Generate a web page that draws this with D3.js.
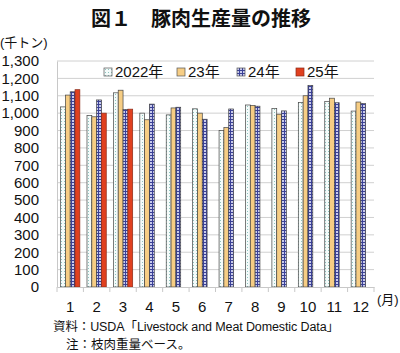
<!DOCTYPE html>
<html>
<head>
<meta charset="utf-8">
<script src="https://cdn.jsdelivr.net/npm/d3@7"></script>
<style>
  body { margin: 0; background: #fff; }
  text { font-family: "Liberation Sans", "Noto Sans CJK JP", sans-serif; fill: #111; }
</style>
</head>
<body>
<div id="chart"></div>
<script>
// months and series (thousand tons)
var months = ["1", "2", "3", "4", "5", "6", "7", "8", "9", "10", "11", "12"];
var seriesNames = ["2022年", "23年", "24年", "25年"];
var y2022 = [1036, 986, 1117, 1000, 990, 1025, 900, 1047, 1027, 1062, 1068, 1012];
var y2023 = [1104, 979, 1132, 962, 1030, 1000, 917, 1044, 994, 1100, 1086, 1064];
var y2024 = [1123, 1076, 1021, 1052, 1034, 965, 1024, 1040, 1013, 1160, 1060, 1056];
var y2025 = [1135, 1000, 1023];
var yTicks = [0, 100, 200, 300, 400, 500, 600, 700, 800, 900, 1000, 1100, 1200, 1300];

var allSeries = [y2022, y2023, y2024, y2025];
var fills = ["url(#dots)", "#f6cd84", "url(#grid)", "#e0401f"];

var width = 400, height = 353;
var margin = {top: 61, right: 26, bottom: 66, left: 57};

var svg = d3.select("#chart").append("svg")
    .attr("width", width)
    .attr("height", height);

// patterns
var defs = svg.append("defs");
var dots = defs.append("pattern")
    .attr("id", "dots")
    .attr("width", 3).attr("height", 3)
    .attr("patternUnits", "userSpaceOnUse");
dots.append("rect").attr("width", 3).attr("height", 3).attr("fill", "#f4fbfa");
dots.append("rect").attr("x", 1).attr("y", 1).attr("width", 1).attr("height", 1).attr("fill", "#8fc4c0");

var grid = defs.append("pattern")
    .attr("id", "grid")
    .attr("width", 3).attr("height", 3)
    .attr("patternUnits", "userSpaceOnUse");
grid.append("rect").attr("width", 3).attr("height", 3).attr("fill", "#c9cbec");
grid.append("rect").attr("x", 0).attr("y", 2).attr("width", 3).attr("height", 1).attr("fill", "#3b4196");
grid.append("rect").attr("x", 2).attr("y", 0).attr("width", 1).attr("height", 3).attr("fill", "#3b4196");

var innerW = width - margin.left - margin.right;
var innerH = height - margin.top - margin.bottom;

var x = d3.scaleBand()
    .domain(months)
    .range([margin.left, margin.left + innerW])
    .paddingInner(0.27)
    .paddingOuter(0.135);

var xs = d3.scaleBand()
    .domain(d3.range(4))
    .range([0, x.bandwidth()]);

var y = d3.scaleLinear()
    .domain([0, 1300])
    .range([margin.top + innerH, margin.top]);

// title
svg.append("text")
    .attr("x", 201)
    .attr("y", 26)
    .attr("text-anchor", "middle")
    .style("font-size", "20px")
    .style("font-weight", "bold")
    .text("図１　豚肉生産量の推移");

svg.append("text")
    .attr("x", 0)
    .attr("y", 47)
    .style("font-size", "13px")
    .text("(千トン)");

// gridlines
svg.append("g")
    .selectAll("line")
    .data(yTicks.filter(function(d) { return d > 0; }))
    .join("line")
    .attr("x1", margin.left)
    .attr("x2", margin.left + innerW)
    .attr("y1", function(d) { return y(d); })
    .attr("y2", function(d) { return y(d); })
    .attr("stroke", "#d0d0d0")
    .attr("stroke-width", 1);

// y axis
var yAxis = svg.append("g")
    .attr("transform", "translate(" + margin.left + ",0)")
    .call(d3.axisLeft(y).tickValues(yTicks).tickSize(0).tickPadding(18).tickFormat(d3.format(",")));
yAxis.select(".domain").attr("stroke", "#c8c8c8");
yAxis.selectAll("text").style("font-size", "15px");

// bars
var groups = svg.append("g")
    .selectAll("g")
    .data(allSeries)
    .join("g")
    .attr("fill", function(d, i) { return fills[i]; });

groups.each(function(series, si) {
    d3.select(this).selectAll("rect")
        .data(series)
        .join("rect")
        .attr("x", function(d, mi) { return x(months[mi]) + xs(si); })
        .attr("y", function(d) { return y(d); })
        .attr("width", xs.bandwidth())
        .attr("height", function(d) { return y(0) - y(d); })
        .attr("stroke", si == 3 ? "#8a2a18" : "#444")
        .attr("stroke-width", 0.7);
});

// x axis
var xAxis = svg.append("g")
    .attr("transform", "translate(0," + y(0) + ")")
    .call(d3.axisBottom(x).tickSize(0).tickPadding(14));
xAxis.select(".domain").attr("stroke", "#c8c8c8");
xAxis.selectAll("text").style("font-size", "15px");

// tick marks between months
var step = innerW / months.length;
svg.append("g")
    .selectAll("line")
    .data(d3.range(months.length + 1))
    .join("line")
    .attr("x1", function(d) { return margin.left + d * step; })
    .attr("x2", function(d) { return margin.left + d * step; })
    .attr("y1", y(0))
    .attr("y2", y(0) + 5)
    .attr("stroke", "#c8c8c8");

svg.append("text")
    .attr("x", 377)
    .attr("y", 304)
    .style("font-size", "13px")
    .text("(月)");

// legend
var legendX = [104, 177, 237, 296];
var legend = svg.append("g")
    .selectAll("g")
    .data(seriesNames)
    .join("g")
    .attr("transform", function(d, i) { return "translate(" + legendX[i] + ",68)"; });
legend.append("rect")
    .attr("width", 8).attr("height", 8)
    .attr("fill", function(d, i) { return fills[i]; })
    .attr("stroke", function(d, i) { return i == 3 ? "#8a2a18" : "#555"; })
    .attr("stroke-width", 0.7);
legend.append("text")
    .attr("x", 11)
    .attr("y", 9)
    .style("font-size", "15px")
    .text(function(d) { return d; });

// source notes
svg.append("text")
    .attr("x", 53)
    .attr("y", 331)
    .style("font-size", "12.5px")
    .attr("textLength", 286)
    .text("資料：USDA「Livestock and Meat Domestic Data」");
svg.append("text")
    .attr("x", 66)
    .attr("y", 349)
    .style("font-size", "12.5px")
    .text("注：枝肉重量ベース。");
</script>
</body>
</html>
